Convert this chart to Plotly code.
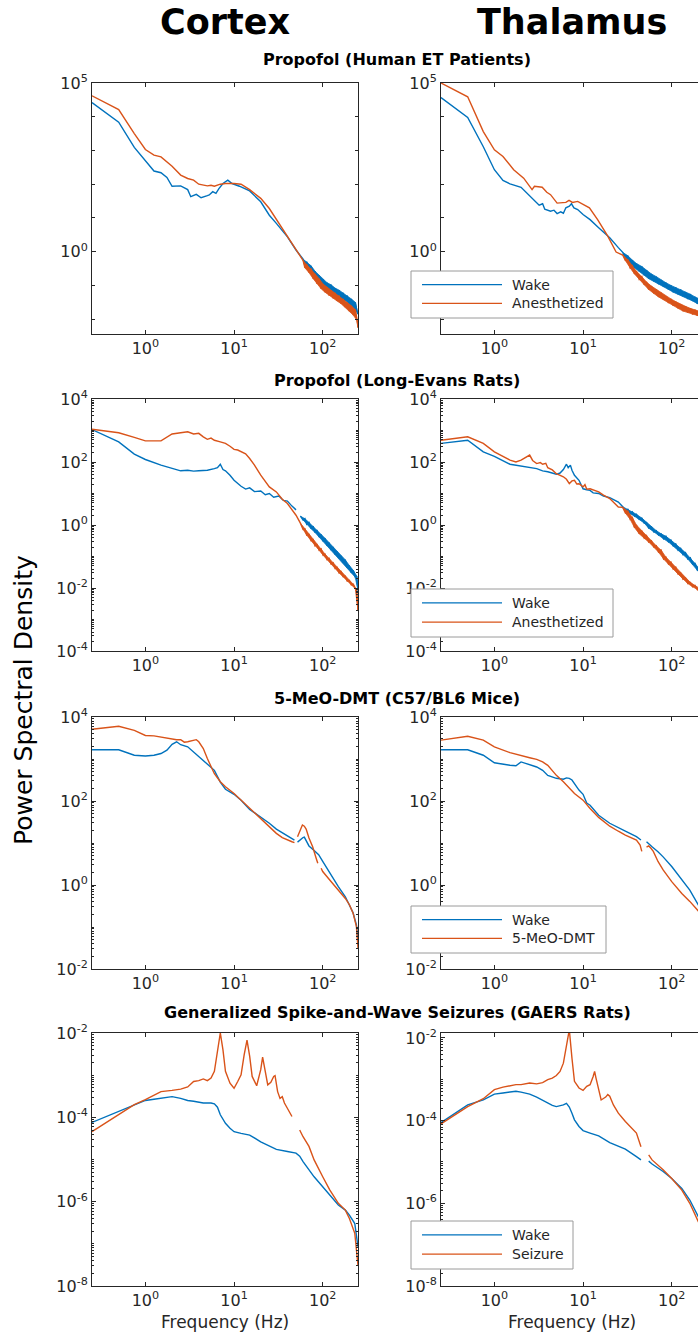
import math
import plotly.graph_objects as go

W, H = 698, 1336
FONT = "DejaVu Sans"
BLUE = "#0072BD"
ORANGE = "#D95319"
AX = "#262626"

# Power spectra are stored as log10(PSD); frequencies in Hz.
# Above each curve's noise frequency the values alternate between the upper
# and lower edge of the fluctuating spectrum.

# ---- Propofol (Human ET Patients) : cortex ----
hum_ctx_wake_f = [0.25, 0.5, 0.75, 1, 1.25, 1.5, 1.75, 2, 2.5, 3, 3.25, 3.75, 4.25, 5, 5.25, 5.75, 6.25, 6.75, 7.5, 8.5,
                  9.5, 11.5, 15, 20, 25, 30, 40, 50,
                  60, 63, 66, 70, 74, 78, 82, 86, 91, 96, 101, 106, 112, 118, 124, 131, 138, 145, 153, 161, 170, 179,
                  189, 199, 210, 221, 233, 245, 250]
hum_ctx_wake_log = [4.42, 3.84, 3.09, 2.71, 2.39, 2.34, 2.20, 1.94, 1.95, 1.84, 1.63, 1.70, 1.60, 1.66, 1.68, 1.78, 1.73, 1.87, 2.02, 2.12,
                    2.02, 1.94, 1.80, 1.48, 1.08, 0.84, 0.44, 0.05,
                    -0.22, -0.42, -0.30, -0.55, -0.42, -0.72, -0.58, -0.84, -0.70, -0.98, -0.82, -1.08, -0.92, -1.15, -0.98, -1.24, -1.08, -1.30, -1.14, -1.38, -1.22, -1.45,
                    -1.30, -1.55, -1.40, -1.66, -1.50, -1.80, -1.85]
hum_ctx_prop_f = [0.25, 0.5, 0.75, 1, 1.25, 1.5, 2, 2.5, 3, 3.5, 4, 5, 5.5, 6, 7, 8, 10, 12, 15, 20, 25, 30, 40, 50,
                  60, 63, 66, 70, 74, 78, 82, 86, 91, 96, 101, 106, 112, 118, 124, 131, 138, 145, 153, 161, 170, 179,
                  189, 199, 210, 221, 233, 245, 250]
hum_ctx_prop_log = [4.62, 4.21, 3.50, 3.03, 2.86, 2.81, 2.53, 2.27, 2.17, 2.12, 2.00, 1.95, 1.97, 1.94, 2.00, 2.02, 2.02, 2.00, 1.84, 1.58, 1.28, 0.96, 0.49, 0.10,
                    -0.26, -0.48, -0.38, -0.62, -0.50, -0.80, -0.66, -0.95, -0.80, -1.10, -0.96, -1.20, -1.05, -1.30, -1.14, -1.38, -1.22, -1.46, -1.30, -1.54, -1.40, -1.64,
                    -1.50, -1.76, -1.60, -1.88, -1.72, -2.05, -2.25]

# ---- Propofol (Human ET Patients) : thalamus ----
hum_thal_wake_f = [0.25, 0.5, 0.75, 1, 1.25, 1.5, 2, 2.3, 2.6, 2.8, 3.2, 3.5, 3.7, 4.3, 4.7, 5.1, 5.6, 6, 6.4, 7, 7.4, 7.9, 8.7, 10, 12, 15, 20, 25,
                   28, 30, 32, 34, 36, 38, 40, 43, 46, 49, 52, 55, 59, 63, 67, 71, 76, 81, 86, 92, 98, 104, 111, 118,
                   126, 134, 143, 152, 162, 172, 183, 195, 208, 222, 236, 250]
hum_thal_wake_log = [4.57, 3.98, 3.11, 2.43, 2.11, 2.01, 1.91, 1.76, 1.60, 1.54, 1.38, 1.42, 1.26, 1.20, 1.23, 1.13, 1.18, 1.14, 1.30, 1.35, 1.42, 1.30, 1.25, 1.10, 0.95, 0.71, 0.41, 0.12,
                     -0.02, -0.22, -0.12, -0.38, -0.25, -0.48, -0.35, -0.58, -0.44, -0.70, -0.55, -0.80, -0.66, -0.88, -0.74, -0.96, -0.84, -1.04, -0.92, -1.12, -1.00, -1.20, -1.06, -1.26,
                     -1.12, -1.32, -1.20, -1.40, -1.26, -1.46, -1.34, -1.54, -1.40, -1.60, -1.48, -1.64]
hum_thal_prop_f = [0.25, 0.5, 0.75, 1, 1.25, 1.65, 2.14, 2.5, 2.66, 2.83, 3.46, 3.9, 4.3, 5.1, 5.8, 6.4, 6.95, 7.6, 8.7, 9.4, 10.8, 11.8, 14.6, 19, 23.6,
                   28, 30, 32, 34, 36, 38, 40, 43, 46, 49, 52, 55, 59, 63, 67, 71, 76, 81, 86, 92, 98, 104, 111, 118,
                   126, 134, 143, 152, 162, 172, 183, 195, 208, 222, 236, 250]
hum_thal_prop_log = [5.00, 4.59, 3.56, 3.02, 2.82, 2.43, 2.18, 1.92, 1.84, 1.94, 1.91, 1.76, 1.69, 1.44, 1.46, 1.46, 1.52, 1.46, 1.49, 1.44, 1.35, 1.30, 0.95, 0.46, -0.01,
                     -0.10, -0.26, -0.24, -0.48, -0.42, -0.66, -0.58, -0.82, -0.74, -0.98, -0.90, -1.12, -1.02, -1.24, -1.12, -1.34, -1.22, -1.42, -1.32, -1.52, -1.40, -1.60, -1.48, -1.68,
                     -1.56, -1.76, -1.62, -1.80, -1.68, -1.86, -1.72, -1.90, -1.76, -1.94, -1.82, -1.98]

# ---- Propofol (Long-Evans Rats) : cortex ----
rat_ctx_wake_f = [0.25, 0.5, 0.75, 1, 1.5, 2, 2.5, 3, 3.5, 4, 5, 6, 6.5, 7, 7.5, 8, 9, 10, 12, 13.5, 15, 17, 20, 22.5, 25, 28, 32, 36, 40, 45, 50, 53,
                  56, 60, 63, 66, 70, 74, 78, 82, 86, 91, 96, 101, 106, 112, 118, 124, 131, 138, 145, 153, 161, 170, 179, 189,
                  199, 210, 221, 233, 242, 250]
rat_ctx_wake_log = [3.03, 2.64, 2.25, 2.08, 1.90, 1.79, 1.72, 1.74, 1.71, 1.72, 1.74, 1.79, 1.82, 1.93, 1.76, 1.72, 1.58, 1.42, 1.23, 1.14, 1.18, 1.06, 1.08, 0.96, 1.00, 0.88, 0.92, 0.78, 0.76, 0.60, 0.48, None,
                    0.28, 0.16, 0.20, 0.02, 0.08, -0.12, -0.04, -0.24, -0.16, -0.38, -0.30, -0.52, -0.42, -0.66, -0.56, -0.80, -0.70, -0.94, -0.84, -1.06, -0.98, -1.20, -1.10, -1.36,
                    -1.28, -1.52, -1.44, -1.66, -1.62, -2.08]
rat_ctx_prop_f = [0.25, 0.5, 0.75, 1, 1.5, 2, 2.5, 3, 3.5, 4, 4.5, 5, 5.5, 6, 7, 8, 9, 10, 11, 12, 13.5, 15, 17, 20, 22.5, 25, 30, 35, 40, 45, 50,
                  56, 60, 63, 66, 70, 74, 78, 82, 86, 91, 96, 101, 106, 112, 118, 124, 131, 138, 145, 153, 161, 170, 179, 189,
                  199, 210, 221, 233, 242, 250]
rat_ctx_prop_log = [3.04, 2.93, 2.78, 2.67, 2.67, 2.89, 2.93, 2.96, 2.89, 2.91, 2.80, 2.72, 2.76, 2.69, 2.64, 2.59, 2.50, 2.40, 2.38, 2.32, 2.26, 2.11, 1.90, 1.58, 1.38, 1.21, 1.05, 0.82, 0.68, 0.50, 0.31,
                    0.06, -0.14, -0.12, -0.32, -0.30, -0.50, -0.46, -0.66, -0.62, -0.80, -0.76, -0.96, -0.92, -1.10, -1.06, -1.24, -1.20, -1.38, -1.34, -1.52, -1.48, -1.64, -1.62, -1.78,
                    -1.76, -1.90, -1.88, -2.02, -2.10, -2.72]

# ---- Propofol (Long-Evans Rats) : thalamus ----
rat_thal_wake_f = [0.25, 0.5, 0.75, 1, 1.5, 2, 2.5, 3, 3.5, 4, 5, 5.5, 6, 6.5, 6.8, 7.2, 7.5, 8, 9, 10, 11, 12, 13, 15, 17, 20, 25,
                   28, 30, 32, 34, 36, 38, 40, 43, 46, 49, 52, 55, 59, 63, 67, 71, 76, 81, 86, 92, 98, 104, 111, 118,
                   126, 134, 143, 152, 162, 172, 183, 195, 208, 222, 236, 250]
rat_thal_wake_log = [2.59, 2.69, 2.32, 2.18, 1.93, 1.87, 1.84, 1.79, 1.72, 1.69, 1.61, 1.65, 1.76, 1.93, 1.82, 1.90, 1.74, 1.58, 1.42, 1.15, 1.12, 1.10, 1.02, 1.00, 0.92, 0.87, 0.73,
                     0.58, 0.44, 0.50, 0.36, 0.42, 0.28, 0.34, 0.18, 0.22, 0.06, 0.08, -0.10, -0.06, -0.22, -0.18, -0.32, -0.28, -0.44, -0.36, -0.54, -0.48, -0.66, -0.60, -0.80,
                     -0.74, -0.94, -0.88, -1.08, -1.04, -1.24, -1.22, -1.44, -1.42, -1.58, -1.56, -1.68]
rat_thal_prop_f = [0.25, 0.5, 0.75, 1, 1.5, 1.75, 2, 2.2, 2.5, 2.7, 3, 3.3, 3.5, 3.8, 4, 4.5, 5, 6, 6.5, 7, 7.5, 8, 8.5, 9, 10, 10.5, 11, 12, 13, 15, 17, 20, 25,
                   28, 30, 32, 34, 36, 38, 40, 43, 46, 49, 52, 55, 59, 63, 67, 71, 76, 81, 86, 92, 98, 104, 111, 118,
                   126, 134, 143, 152, 162, 172, 183, 195, 208, 222, 236, 250]
rat_thal_prop_log = [2.69, 2.80, 2.59, 2.32, 2.06, 2.00, 2.06, 2.12, 2.22, 2.05, 1.95, 1.98, 1.93, 1.96, 1.82, 1.75, 1.63, 1.53, 1.45, 1.31, 1.40, 1.42, 1.30, 1.31, 1.21, 1.28, 1.14, 1.15, 1.12, 1.05, 0.95, 0.84, 0.57,
                     0.56, 0.38, 0.44, 0.18, 0.24, -0.08, 0.00, -0.28, -0.18, -0.42, -0.34, -0.54, -0.50, -0.70, -0.66, -0.86, -0.80, -1.08, -1.02, -1.24, -1.18, -1.40, -1.34, -1.56,
                     -1.52, -1.72, -1.68, -1.86, -1.82, -1.96, -1.92, -2.06, -2.02, -2.14, -2.12, -2.22]

# ---- 5-MeO-DMT (C57/BL6 Mice) : cortex ----
mouse_ctx_wake_f = [0.25, 0.5, 0.75, 1, 1.25, 1.5, 1.75, 2, 2.25, 2.5, 3, 3.5, 4, 4.5, 5, 6, 7, 8, 10, 12,
                    15, 20, 25, 30, 35, 40, 45, 48, 50, 52, 55, 60, 62, 65, 70, 80, 90, 100, 120, 150,
                    180, 200, 220, 240, 250]
mouse_ctx_wake_log = [3.22, 3.22, 3.09, 3.07, 3.09, 3.13, 3.21, 3.35, 3.41, 3.34, 3.29, 3.17, 3.05, 2.97, 2.89, 2.73, 2.45, 2.28, 2.16, 2.02,
                      1.80, 1.62, 1.47, 1.33, 1.24, 1.16, 1.10, 1.07, None, 1.02, 1.07, 1.13, 1.14, 1.05, 0.93, 0.82, 0.72, 0.56, 0.28, -0.04,
                      -0.28, -0.48, -0.66, -0.95, -1.30]
mouse_ctx_dmt_f = [0.25, 0.5, 0.75, 1, 1.25, 1.5, 1.75, 2, 2.25, 2.5, 2.75, 3, 3.5, 3.75, 4, 4.5, 5, 6, 7, 8,
                   10, 12, 15, 20, 25, 30, 35, 40, 45, 48, 50, 52, 56, 59, 62, 65, 70, 77, 84, 88,
                   90, 96, 100, 120, 150, 180, 200, 220, 240, 250]
mouse_ctx_dmt_log = [3.71, 3.78, 3.68, 3.56, 3.55, 3.52, 3.49, 3.47, 3.46, 3.46, 3.40, 3.41, 3.45, 3.46, 3.41, 3.25, 3.01, 2.65, 2.46, 2.34,
                     2.18, 2.02, 1.82, 1.59, 1.39, 1.23, 1.13, 1.07, 1.03, 1.01, None, 1.15, 1.32, 1.43, 1.40, 1.33, 1.12, 0.91, 0.65, 0.52,
                     None, 0.40, 0.32, 0.12, -0.12, -0.32, -0.47, -0.67, -0.99, -1.50]

# ---- 5-MeO-DMT (C57/BL6 Mice) : thalamus ----
mouse_thal_wake_f = [0.25, 0.5, 0.75, 1, 1.5, 1.75, 2, 2.25, 2.5, 3, 3.5, 4, 5, 6, 6.5, 7, 7.5, 8, 9, 10,
                     11, 12, 15, 20, 25, 30, 40, 45, 48, 52, 55, 60, 70, 80, 100, 130, 160, 200, 250]
mouse_thal_wake_log = [3.22, 3.22, 3.09, 2.91, 2.85, 2.84, 2.93, 2.89, 2.87, 2.81, 2.73, 2.61, 2.54, 2.52, 2.55, 2.54, 2.50, 2.42, 2.26, 2.16,
                       1.95, 1.90, 1.66, 1.47, 1.36, 1.28, 1.15, 1.07, None, 1.03, 0.99, 0.91, 0.79, 0.67, 0.44, 0.12, -0.12, -0.48, -0.70]
mouse_thal_dmt_f = [0.25, 0.5, 0.75, 1, 1.5, 1.75, 2, 2.25, 2.5, 3, 3.5, 4, 5, 6, 7, 8, 10, 12, 15, 20,
                    25, 30, 40, 44, 46, 48, 52, 55, 58, 62, 70, 80, 100, 130, 160, 200, 250]
mouse_thal_dmt_log = [3.45, 3.54, 3.45, 3.29, 3.15, 3.11, 3.07, 3.05, 3.03, 2.99, 2.93, 2.85, 2.61, 2.46, 2.32, 2.18, 2.02, 1.82, 1.61, 1.40,
                      1.28, 1.19, 1.07, 0.95, 0.80, None, 0.90, 0.93, 0.88, 0.80, 0.56, 0.36, 0.08, -0.20, -0.39, -0.63, -0.85]

# ---- Generalized Spike-and-Wave Seizures (GAERS Rats) : cortex ----
gaers_ctx_wake_f = [0.25, 0.5, 0.75, 1, 1.25, 1.5, 2, 2.5, 3, 3.5, 4, 4.5, 5, 5.5, 6, 6.5, 7, 7.5, 8, 9,
                    10, 12, 15, 20, 25, 30, 40, 50, 55, 60, 80, 100, 120, 150, 180, 200, 230, 250]
gaers_ctx_wake_log = [-4.12, -3.86, -3.70, -3.60, -3.57, -3.55, -3.51, -3.55, -3.60, -3.62, -3.65, -3.66, -3.66, -3.66, -3.68, -3.76, -3.94, -4.04, -4.14, -4.26,
                      -4.34, -4.38, -4.42, -4.58, -4.69, -4.76, -4.81, -4.85, -4.92, -5.05, -5.41, -5.65, -5.84, -6.08, -6.20, -6.32, -6.52, -7.07]
gaers_ctx_swd_f = [0.25, 0.5, 0.75, 1, 1.25, 1.5, 2, 2.5, 3, 3.5, 4, 4.5, 5, 5.5, 6, 6.5, 7, 7.5, 8, 9,
                   10, 11, 12, 13, 14, 15, 16, 18, 20, 21, 22, 24, 26, 28, 29, 31, 33, 35, 37, 40,
                   45, 50, 55, 60, 70, 80, 100, 120, 150, 180, 200, 230, 250]
gaers_ctx_swd_log = [-4.34, -3.94, -3.70, -3.58, -3.47, -3.39, -3.36, -3.33, -3.28, -3.15, -3.13, -3.09, -3.13, -3.07, -2.91, -2.48, -2.00, -2.40, -2.91, -3.19,
                     -3.31, -3.15, -2.99, -2.52, -2.17, -2.55, -3.03, -3.25, -2.87, -2.57, -2.79, -3.23, -3.17, -3.03, -3.01, -3.39, -3.55, -3.51, -3.66, -3.78,
                     -3.98, None, -4.30, -4.46, -4.69, -5.01, -5.41, -5.72, -6.04, -6.20, -6.40, -6.75, -7.51]

# ---- Generalized Spike-and-Wave Seizures (GAERS Rats) : thalamus ----
gaers_thal_wake_f = [0.25, 0.5, 0.75, 1, 1.25, 1.5, 1.75, 2, 2.5, 3, 3.5, 4, 4.5, 5, 5.5, 6, 6.5, 7, 7.5, 8,
                     9, 10, 12, 15, 20, 25, 30, 40, 45, 50, 55, 60, 80, 100, 130, 160, 200, 250]
gaers_thal_wake_log = [-4.05, -3.62, -3.50, -3.36, -3.33, -3.31, -3.29, -3.31, -3.36, -3.43, -3.50, -3.58, -3.63, -3.66, -3.64, -3.62, -3.58, -3.67, -3.82, -3.98,
                       -4.14, -4.24, -4.30, -4.37, -4.53, -4.61, -4.69, -4.87, -4.95, None, -4.98, -5.05, -5.23, -5.40, -5.64, -5.92, -6.33, -6.60]
gaers_thal_swd_f = [0.25, 0.5, 0.75, 1, 1.25, 1.5, 1.75, 2, 2.5, 3, 3.5, 4, 4.5, 5, 5.5, 6, 6.5, 7, 7.5, 8,
                    9, 10, 11, 12, 13, 13.5, 14, 15, 16, 18, 19, 20, 22, 25, 30, 40, 45, 50, 55, 60,
                    80, 100, 130, 160, 200, 250]
gaers_thal_swd_log = [-4.08, -3.66, -3.47, -3.25, -3.19, -3.16, -3.13, -3.13, -3.09, -3.11, -3.08, -3.01, -2.97, -2.91, -2.81, -2.61, -2.20, -1.80, -2.49, -3.05,
                      -3.21, -3.27, -3.17, -3.13, -2.93, -2.81, -2.97, -3.29, -3.50, -3.43, -3.37, -3.41, -3.62, -3.82, -4.02, -4.30, -4.63, None, -4.83, -4.95,
                      -5.19, -5.40, -5.68, -6.00, -6.45, -6.80]

column_titles = ["Cortex", "Thalamus"]
row_titles = ["Propofol (Human ET Patients)", "Propofol (Long-Evans Rats)",
              "5-MeO-DMT (C57/BL6 Mice)", "Generalized Spike-and-Wave Seizures (GAERS Rats)"]
legend_labels = [("Wake", "Anesthetized"), ("Wake", "Anesthetized"),
                 ("Wake", "5-MeO-DMT"), ("Wake", "Seizure")]

# per row: [cortex, thalamus], each ((wake f, wake log, noise from Hz), (condition f, log, noise from Hz))
spectra = [
    [((hum_ctx_wake_f, hum_ctx_wake_log, 60), (hum_ctx_prop_f, hum_ctx_prop_log, 60)),
     ((hum_thal_wake_f, hum_thal_wake_log, 28), (hum_thal_prop_f, hum_thal_prop_log, 28))],
    [((rat_ctx_wake_f, rat_ctx_wake_log, 56), (rat_ctx_prop_f, rat_ctx_prop_log, 56)),
     ((rat_thal_wake_f, rat_thal_wake_log, 28), (rat_thal_prop_f, rat_thal_prop_log, 28))],
    [((mouse_ctx_wake_f, mouse_ctx_wake_log, None), (mouse_ctx_dmt_f, mouse_ctx_dmt_log, None)),
     ((mouse_thal_wake_f, mouse_thal_wake_log, None), (mouse_thal_dmt_f, mouse_thal_dmt_log, None))],
    [((gaers_ctx_wake_f, gaers_ctx_wake_log, None), (gaers_ctx_swd_f, gaers_ctx_swd_log, None)),
     ((gaers_thal_wake_f, gaers_thal_wake_log, None), (gaers_thal_swd_f, gaers_thal_swd_log, None))],
]

# y-axis limits (log10) and labelled exponents
y_limits = [[(-2.44, 5), (-2.44, 5)], [(-4, 4), (-4, 4)], [(-2, 4), (-2, 4)], [(-8, -2), (-8, -1.88)]]
y_labels = [[0, 5], [4, 2, 0, -2, -4], [4, 2, 0, -2], [-2, -4, -6, -8]]
y_minor_multiples = [False, True, True, True]

# ---- layout geometry (pixels) ----
COL_X = [(92, 358), (441, 698)]
ROW_Y = [(83, 334), (399, 651), (717, 969), (1033, 1286)]
PX_PER_DEC = (COL_X[0][1] - COL_X[0][0]) / 3.0
F_LO = math.log10(0.25)


def px(x):
    return x / W


def py(y):
    return 1 - y / H


def sup(e):
    return "10<sup>%s</sup>" % ("-%d" % abs(e) if e < 0 else "%d" % e)


def to_psd(vals):
    return [None if v is None else 10 ** v for v in vals]


fig = go.Figure()


def add_spectrum(f, v, noise_from, color, xref, yref):
    fig.add_trace(go.Scatter(x=f, y=to_psd(v), mode="lines", xaxis=xref, yaxis=yref,
                             line=dict(color=color, width=1.4), connectgaps=False,
                             showlegend=False, hoverinfo="skip"))
    if noise_from is None:
        return
    k = next(i for i, fv in enumerate(f) if fv >= noise_from)
    fh, vh = f[k:], v[k:]
    # band between the alternating upper / lower readings
    bx = fh[0::2] + fh[1::2][::-1]
    by = vh[0::2] + vh[1::2][::-1]
    fig.add_trace(go.Scatter(x=bx, y=to_psd(by), mode="lines", fill="toself", fillcolor=color,
                             xaxis=xref, yaxis=yref, line=dict(color=color, width=0.8),
                             showlegend=False, hoverinfo="skip"))


tickfont = dict(family=FONT, size=16, color=AX)
layout_axes = {}
n = 0
for r in range(4):
    for c in range(2):
        n += 1
        xa = "xaxis" if n == 1 else "xaxis%d" % n
        ya = "yaxis" if n == 1 else "yaxis%d" % n
        xref = "x" if n == 1 else "x%d" % n
        yref = "y" if n == 1 else "y%d" % n
        (wf, wv, wn), (cf, cv, cn) = spectra[r][c]
        add_spectrum(wf, wv, wn, BLUE, xref, yref)
        add_spectrum(cf, cv, cn, ORANGE, xref, yref)

        x0, x1 = COL_X[c]
        y0, y1 = ROW_Y[r]
        f_hi = F_LO + (x1 - x0) / PX_PER_DEC
        layout_axes[xa] = dict(
            type="log", domain=[px(x0), px(x1)], range=[F_LO, f_hi], anchor=yref,
            tickvals=[1, 10, 100], ticktext=[sup(0), sup(1), sup(2)],
            showline=True, linecolor=AX, linewidth=1, mirror="allticks",
            ticks="inside", ticklen=4, tickcolor=AX, showgrid=False, zeroline=False,
            tickfont=tickfont, fixedrange=True, automargin=False)

        lo, hi = y_limits[r][c]
        labelled = sorted(y_labels[r])
        minor_vals = [10 ** k for k in range(math.ceil(lo), math.floor(hi) + 1) if k not in labelled]
        if y_minor_multiples[r]:
            minor_vals += [m * 10 ** k for k in range(math.floor(lo), math.ceil(hi))
                           for m in range(2, 10) if lo <= math.log10(m * 10 ** k) <= hi]
        layout_axes[ya] = dict(
            type="log", domain=[py(y1), py(y0)], range=[lo, hi], anchor=xref,
            tickvals=[10 ** k for k in labelled], ticktext=[sup(k) for k in labelled],
            showline=True, linecolor=AX, linewidth=1,
            mirror="allticks" if c == 0 else False,
            ticks="inside", ticklen=4, tickcolor=AX, showgrid=False, zeroline=False,
            minor=dict(ticks="inside", ticklen=3 if not y_minor_multiples[r] else 2,
                       tickcolor=AX, showgrid=False, tickvals=minor_vals),
            tickfont=tickfont, fixedrange=True, automargin=False)

# ---- legends inside the thalamus panels ----
legend_boxes = [(411, 613, 271, 318), (411, 613, 589, 637), (411, 606, 906, 953), (411, 573, 1221, 1269)]
shapes = []
annotations = []
for r, (bx0, bx1, by0, by1) in enumerate(legend_boxes):
    shapes.append(dict(type="rect", xref="paper", yref="paper", layer="above",
                       x0=px(bx0), x1=px(bx1), y0=py(by1), y1=py(by0),
                       fillcolor="white", line=dict(color="#9a9a9a", width=1)))
    ya_ = by0 + (by1 - by0) * 0.29
    yb_ = by0 + (by1 - by0) * 0.69
    for yy, col, label in ((ya_, BLUE, legend_labels[r][0]), (yb_, ORANGE, legend_labels[r][1])):
        shapes.append(dict(type="line", xref="paper", yref="paper", layer="above",
                           x0=px(422), x1=px(502), y0=py(yy), y1=py(yy),
                           line=dict(color=col, width=1.3)))
        annotations.append(dict(text=label, xref="paper", yref="paper", x=px(510), y=py(yy),
                                xanchor="left", yanchor="middle", showarrow=False,
                                font=dict(family=FONT, size=14, color=AX)))

# column headers, row titles, shared axis titles
for cx, t in zip((225, 572), column_titles):
    annotations.append(dict(text="<b>%s</b>" % t, xref="paper", yref="paper", x=px(cx), y=py(22),
                            xanchor="center", yanchor="middle", showarrow=False,
                            font=dict(family=FONT, size=35, color="black")))
row_title_y = [60, 380, 698, 1012]
for r, t in enumerate(row_titles):
    annotations.append(dict(text="<b>%s</b>" % t, xref="paper", yref="paper", x=px(397), y=py(row_title_y[r]),
                            xanchor="center", yanchor="middle", showarrow=False,
                            font=dict(family=FONT, size=16, color="black")))
for cx in (225, 572):
    annotations.append(dict(text="Frequency (Hz)", xref="paper", yref="paper", x=px(cx), y=py(1322),
                            xanchor="center", yanchor="middle", showarrow=False,
                            font=dict(family=FONT, size=17, color=AX)))
annotations.append(dict(text="Power Spectral Density", xref="paper", yref="paper", x=px(23), y=py(700),
                        xanchor="center", yanchor="middle", showarrow=False, textangle=-90,
                        font=dict(family=FONT, size=25, color="black")))

fig.update_layout(
    width=W, height=H, margin=dict(l=0, r=0, t=0, b=0, autoexpand=False),
    paper_bgcolor="white", plot_bgcolor="white",
    showlegend=False, shapes=shapes, annotations=annotations,
    **layout_axes)

fig.write_html("out.html", config={"displayModeBar": False, "staticPlot": True})
